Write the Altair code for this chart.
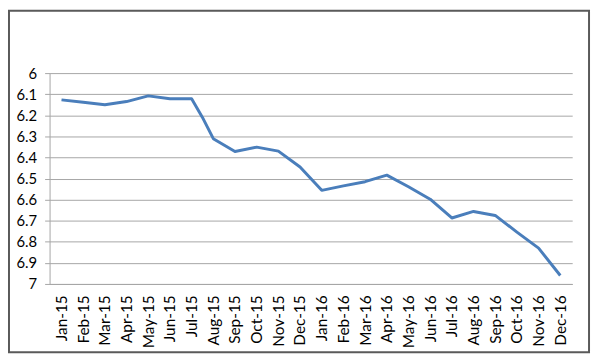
import altair as alt
import pandas as pd

months = ["Jan-15", "Feb-15", "Mar-15", "Apr-15", "May-15", "Jun-15",
          "Jul-15", "Aug-15", "Sep-15", "Oct-15", "Nov-15", "Dec-15",
          "Jan-16", "Feb-16", "Mar-16", "Apr-16", "May-16", "Jun-16",
          "Jul-16", "Aug-16", "Sep-16", "Oct-16", "Nov-16", "Dec-16"]
values = [6.127, 6.138, 6.150, 6.135, 6.108, 6.122,
          6.122, 6.311, 6.372, 6.351, 6.370, 6.445,
          6.556, 6.535, 6.515, 6.484, 6.539, 6.598,
          6.687, 6.656, 6.675, 6.754, 6.830, 6.960]
# one extra observation between Jul-15 and Aug-15
extra_pos = [6.5]
extra_val = [6.21]
y_ticks = [6.0, 6.1, 6.2, 6.3, 6.4, 6.5, 6.6, 6.7, 6.8, 6.9, 7.0]

pos = list(range(len(months))) + extra_pos
vals = values + extra_val
df = pd.DataFrame({"i": pos, "v": vals}).sort_values("i")

label_js = "[" + ",".join("'" + m + "'" for m in months) + "]"

FONT = "Lato"

line = alt.Chart(df).mark_line(color="#4a7ebb", strokeWidth=3, strokeJoin="round").encode(
    x=alt.X("i:Q",
            scale=alt.Scale(domain=[-0.55, len(months) - 1 + 0.55], nice=False, zero=False),
            axis=alt.Axis(values=list(range(len(months))),
                          labelExpr=label_js + "[datum.value]",
                          labelAngle=270, labelAlign="right", labelBaseline="middle",
                          labelPadding=11, tickSize=0, grid=False,
                          domain=True, domainColor="#a6a6a6", domainWidth=1,
                          labelFont=FONT, labelFontSize=15.5, labelColor="#000000",
                          title=None, labelOverlap=False)),
    y=alt.Y("v:Q",
            scale=alt.Scale(domain=[6, 7], reverse=True, nice=False, zero=False),
            axis=alt.Axis(values=y_ticks, format="~g",
                          grid=True, gridColor="#a6a6a6", gridWidth=1,
                          domain=True, domainColor="#a6a6a6", domainWidth=1,
                          ticks=True, tickSize=5, tickColor="#a6a6a6",
                          labelPadding=8, labelFont=FONT, labelFontSize=15,
                          labelColor="#000000", title=None)),
)

frame = alt.Chart(pd.DataFrame({"a": [0]})).mark_rect(
    filled=False, stroke="#5a5a5a", strokeWidth=2
).encode(
    x=alt.value(-41), x2=alt.value(545),
    y=alt.value(-63), y2=alt.value(282),
)

chart = alt.layer(line, frame).properties(
    width=528, height=213,
    autosize=alt.AutoSizeParams(type="none"),
    padding={"left": 42, "top": 64, "right": 20, "bottom": 70},
    background="#ffffff",
).configure_view(stroke=None)

chart.save("out.html", embed_options={"renderer": "svg", "actions": False})
